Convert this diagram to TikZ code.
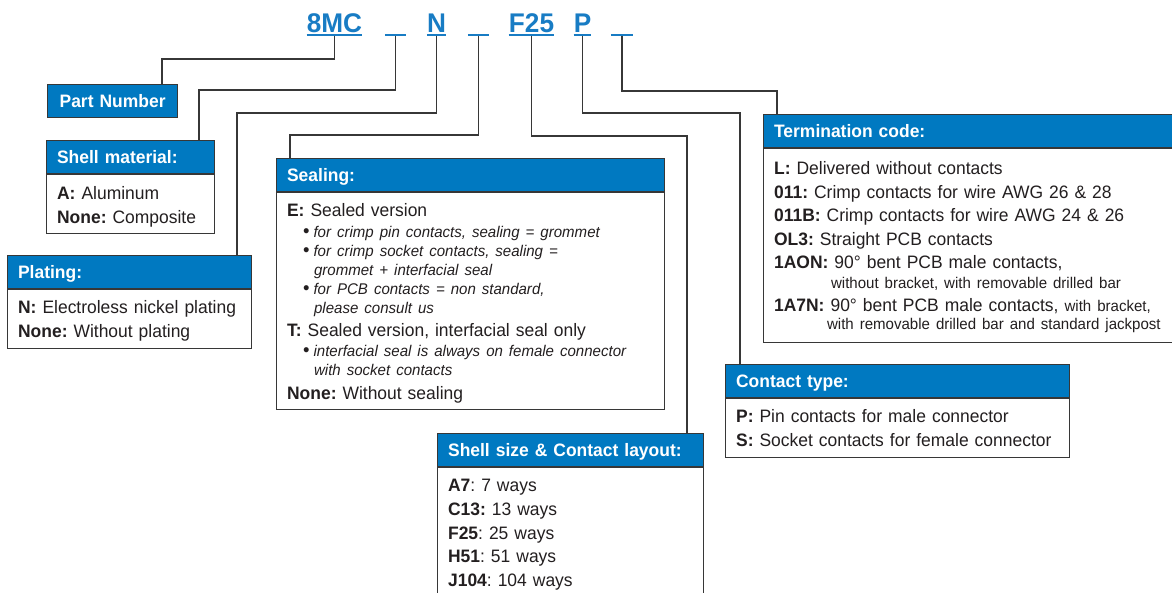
\documentclass[tikz,border=0pt]{standalone}
\usepackage{fontspec}
\setmainfont[FakeStretch=0.97]{Liberation Sans}
\usepackage{xcolor}
\definecolor{hdrblue}{RGB}{0,121,193}
\definecolor{codeblue}{RGB}{24,124,196}
\definecolor{frame}{RGB}{55,55,55}
\definecolor{ink}{RGB}{35,31,32}
\usetikzlibrary{positioning,calc}
\tikzset{
  head/.style={draw=frame,fill=hdrblue,text=white,line width=1.2pt,%
    font=\bfseries\fontsize{18}{18}\selectfont,anchor=north west,%
    inner xsep=10.5pt,inner ysep=0pt,minimum height=33pt,%
    text height=13pt,text depth=0pt,align=left},
  body/.style={draw=frame,fill=white,text=ink,line width=1.2pt,%
    font=\fontsize{18}{24}\selectfont,anchor=north west,%
    inner xsep=10.5pt,inner ysep=0pt,align=left},
  code/.style={text=codeblue,font=\bfseries\fontsize{27}{27}\selectfont,%
    inner sep=0pt,anchor=base},
  blank/.style={inner sep=0pt,minimum width=#1,minimum height=0pt,anchor=base},
  uline/.style={draw=codeblue,line width=2pt},
  wire/.style={draw=frame,line width=1.3pt},
}
\frenchspacing
\hyphenpenalty=10000
\exhyphenpenalty=10000
\newcommand\sealbul[1]{{\fontsize{15.5}{19}\selectfont\hspace*{16pt}%
  {\fontsize{19}{19}\selectfont\textbullet}\hspace{4pt}\itshape#1}}
\newcommand\sealcont[1]{{\fontsize{15.5}{19}\selectfont\itshape\hspace*{27pt}#1}}
\newcommand\subline[2]{{\fontsize{15.5}{23.5}\selectfont\hspace*{#1}#2}}

\begin{document}
\begin{tikzpicture}[x=1pt,y=-1pt]
\useasboundingbox (0,0) rectangle (1172,592);

\node[code] (c8mc) at (334.5,32.5) {8MC};
\node[blank=21pt] (sl1) at (395.5,32.5) {};
\node[code] (cn) at (436.5,32.5) {N};
\node[blank=21pt] (sl2) at (478.5,32.5) {};
\node[code] (cf25) at (531.5,32.5) {F25};
\node[code] (cp) at (582.5,32.5) {P};
\node[blank=22pt] (sl3) at (622,32.5) {};
\foreach \n in {c8mc,sl1,cn,sl2,cf25,cp,sl3}
  \draw[uline] ([yshift=-2.5pt]\n.base west) -- ([yshift=-2.5pt]\n.base east);

\node[head,text width=120pt,inner xsep=5pt,align=center] (pn) at (47,83.5) {Part Number};

\node[head,text width=147pt] (smh) at (46,140) {Shell material:};
\node[body,text width=147pt,text height=25pt,text depth=34pt] (smb) at (smh.south west)
  {\textbf{A:} Aluminum\\\textbf{None:} Composite};

\node[head,text width=223pt] (plh) at (7,255) {Plating:};
\node[body,text width=223pt,text height=24pt,text depth=35pt] (plb) at (plh.south west)
  {\textbf{N:} Electroless nickel plating\\\textbf{None:} Without plating};

\node[head,text width=367pt] (seh) at (276,158) {Sealing:};
\node[body,text width=367pt,text height=24pt,text depth=193pt,%
  font=\fontsize{18}{19}\selectfont] (seb) at (seh.south west)
  {\textbf{E:} Sealed version\\[2pt]
   \sealbul{for crimp pin contacts, sealing = grommet}\\
   \sealbul{for crimp socket contacts, sealing =}\\
   \sealcont{grommet + interfacial seal}\\
   \sealbul{for PCB contacts = non standard,}\\
   \sealcont{please consult us}\\[4pt]
   \textbf{T:} Sealed version, interfacial seal only\\[1pt]
   \sealbul{interfacial seal is always on female connector}\\
   \sealcont{with socket contacts}\\[5pt]
   \textbf{None:} Without sealing};

\node[head,text width=245pt] (ssh) at (437,433) {Shell size \& Contact layout:};
\node[body,text width=245pt,text height=24pt,text depth=110pt,%
  font=\fontsize{18}{23.7}\selectfont] (ssb) at (ssh.south west)
  {\textbf{A7}: 7 ways\\\textbf{C13:} 13 ways\\\textbf{F25}: 25 ways\\%
   \textbf{H51}: 51 ways\\\textbf{J104}: 104 ways};

\node[head,text width=391pt] (tch) at (763,114) {Termination code:};
\node[body,text width=391pt,text height=26pt,text depth=168pt,%
  font=\fontsize{18}{23.5}\selectfont] (tcb) at (tch.south west)
  {\textbf{L:} Delivered without contacts\\
   \textbf{011:} Crimp contacts for wire AWG 26 \& 28\\
   \textbf{011B:} Crimp contacts for wire AWG 24 \& 26\\
   \textbf{OL3:} Straight PCB contacts\\
   \textbf{1AON:} 90° bent PCB male contacts,\\[-3.5pt]
   \subline{57pt}{without bracket, with removable drilled bar}\\[-0.5pt]
   \textbf{1A7N:} 90° bent PCB male contacts, {\fontsize{15.5}{23.5}\selectfont with bracket,}\\[-5.5pt]
   \subline{53pt}{with removable drilled bar and standard jackpost}};

\node[head,text width=323pt] (cth) at (725,363.5) {Contact type:};
\node[body,text width=323pt,text height=24pt,text depth=35pt] (ctb) at (cth.south west)
  {\textbf{P:} Pin contacts for male connector\\\textbf{S:} Socket contacts for female connector};

\draw[wire] ([yshift=-3pt]c8mc.base) |- (162,59) -- (pn.north -| 162,0);
\draw[wire] ([yshift=-3pt]sl1.base) |- (199,90) -- (smh.north -| 199,0);
\draw[wire] ([yshift=-3pt]cn.base) |- (237,113) -- (plh.north -| 237,0);
\draw[wire] ([yshift=-3pt]sl2.base) |- (290,135) -- (seh.north -| 290,0);
\draw[wire] ([yshift=-3pt]cf25.base) |- (687,136) -- (ssh.north -| 687,0);
\draw[wire] ([yshift=-3pt]cp.base) |- (740,113) -- (cth.north -| 740,0);
\draw[wire] ([yshift=-3pt]sl3.base) |- (777,91) -- (tch.north -| 777,0);
\end{tikzpicture}
\end{document}
